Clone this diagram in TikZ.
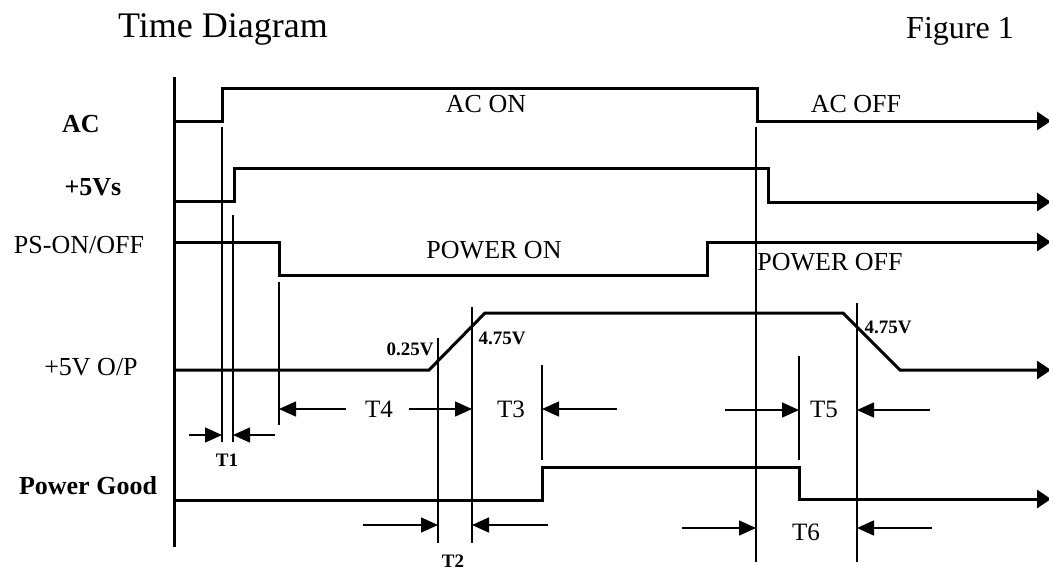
\documentclass[tikz,border=0pt]{standalone}
\usepackage{fontspec}
\setmainfont{Liberation Serif}
\usetikzlibrary{arrows.meta}
\tikzset{
  sig/.style={line width=3pt, line join=miter},
  sigarrow/.style={sig, -{Triangle[length=14pt,width=18pt]}},
  guide/.style={line width=1.5pt},
  dim/.style={line width=1.5pt, -{Triangle[length=17pt,width=15pt]}},
  lbl/.style={anchor=base, inner sep=0pt, font=\fontsize{26}{30}\selectfont},
  blbl/.style={anchor=base, inner sep=0pt, font=\fontsize{26}{30}\selectfont\bfseries},
  vlbl/.style={anchor=base, inner sep=0pt, font=\fontsize{19}{21}\selectfont\bfseries},
  tlbl/.style={anchor=base, inner sep=0pt, font=\fontsize{25}{28}\selectfont},
  ttl/.style={anchor=base, inner sep=0pt, font=\fontsize{36}{40}\selectfont},
}
\begin{document}
\begin{tikzpicture}[x=1pt,y=-1pt]
\useasboundingbox[fill=white] (0,0) rectangle (1049,571);
% titles
\node[ttl] (title) at (223,37) {Time Diagram};
\node[ttl, font=\fontsize{32}{36}\selectfont] (fig) at (960,38) {Figure 1};
% signal names
\node[blbl] (lac) at (81,132) {AC};
\node[blbl] (l5vs) at (93,195) {+5Vs};
\node[lbl] (lps) at (79,253) {PS-ON/OFF};
\node[lbl] (l5vo) at (91,375) {+5V O/P};
\node[blbl] (lpg) at (88,494) {Power Good};
% axis
\draw[sig] (174,77) -- (174,547);
% signals
\draw[sigarrow] (174,121) -- (222,121) -- (222,88) -- (757,88) -- (757,121) -- (1051,121);
\draw[sigarrow] (174,201) -- (234,201) -- (234,168) -- (768,168) -- (768,202) -- (1051,202);
\draw[sigarrow] (174,242) -- (279,242) -- (279,275) -- (707,275) -- (707,242) -- (1051,242);
\draw[sigarrow] (174,370) -- (429,370) -- (485,313) -- (843,313) -- (900,370) -- (1051,370);
\draw[sigarrow] (174,500) -- (542,500) -- (542,467) -- (799,467) -- (799,499) -- (1051,499);
% state labels
\node[lbl] (acon) at (486,112) {AC ON};
\node[lbl] (acoff) at (856,112) {AC OFF};
\node[lbl] (pwon) at (494,258) {POWER ON};
\node[lbl] (pwoff) at (830,270) {POWER OFF};
% voltage labels
\node[vlbl] (v1) at (410,355) {0.25V};
\node[vlbl] (v2) at (502,344) {4.75V};
\node[vlbl] (v3) at (888,333) {4.75V};
% guide lines
\coordinate (g1t) at (222,127); \coordinate (g1b) at (222,442);
\coordinate (g2t) at (233,215); \coordinate (g2b) at (233,442);
\coordinate (g3t) at (279,282); \coordinate (g3b) at (279,425);
\coordinate (g4t) at (438,338); \coordinate (g4b) at (438,543);
\coordinate (g5t) at (472,307); \coordinate (g5b) at (472,543);
\coordinate (g6t) at (542,365); \coordinate (g6b) at (542,460);
\coordinate (g7t) at (756,127); \coordinate (g7b) at (756,562);
\coordinate (g8t) at (799,356); \coordinate (g8b) at (799,460);
\coordinate (g9t) at (857,303); \coordinate (g9b) at (857,562);
\foreach \i in {1,...,9} \draw[guide] (g\i t) -- (g\i b);
% T1
\coordinate (t1a) at (189,435); \coordinate (t1b) at (275,435);
\draw[dim] (t1a) -- (g1t |- t1a);
\draw[dim] (t1b) -- (g2t |- t1b);
\node[vlbl] (t1) at (227,466) {T1};
% T4
\coordinate (t4a) at (346,409); \coordinate (t4b) at (409,409);
\draw[dim] (t4a) -- (g3t |- t4a);
\draw[dim] (t4b) -- (g5t |- t4b);
\node[tlbl] (t4) at (379,417) {T4};
% T3
\coordinate (t3a) at (617,409);
\draw[dim] (t3a) -- (g6t |- t3a);
\node[tlbl] (t3) at (511,417) {T3};
% T2
\coordinate (t2a) at (363,525); \coordinate (t2b) at (548,525);
\draw[dim] (t2a) -- (g4t |- t2a);
\draw[dim] (t2b) -- (g5t |- t2b);
\node[vlbl] (t2) at (453,567) {T2};
% T5
\coordinate (t5a) at (725,410); \coordinate (t5b) at (930,410);
\draw[dim] (t5a) -- (g8t |- t5a);
\draw[dim] (t5b) -- (g9t |- t5b);
\node[tlbl] (t5) at (824,417) {T5};
% T6
\coordinate (t6a) at (682,528); \coordinate (t6b) at (932,528);
\draw[dim] (t6a) -- (g7t |- t6a);
\draw[dim] (t6b) -- (g9t |- t6b);
\node[tlbl] (t6) at (806,540) {T6};
\end{tikzpicture}
\end{document}
